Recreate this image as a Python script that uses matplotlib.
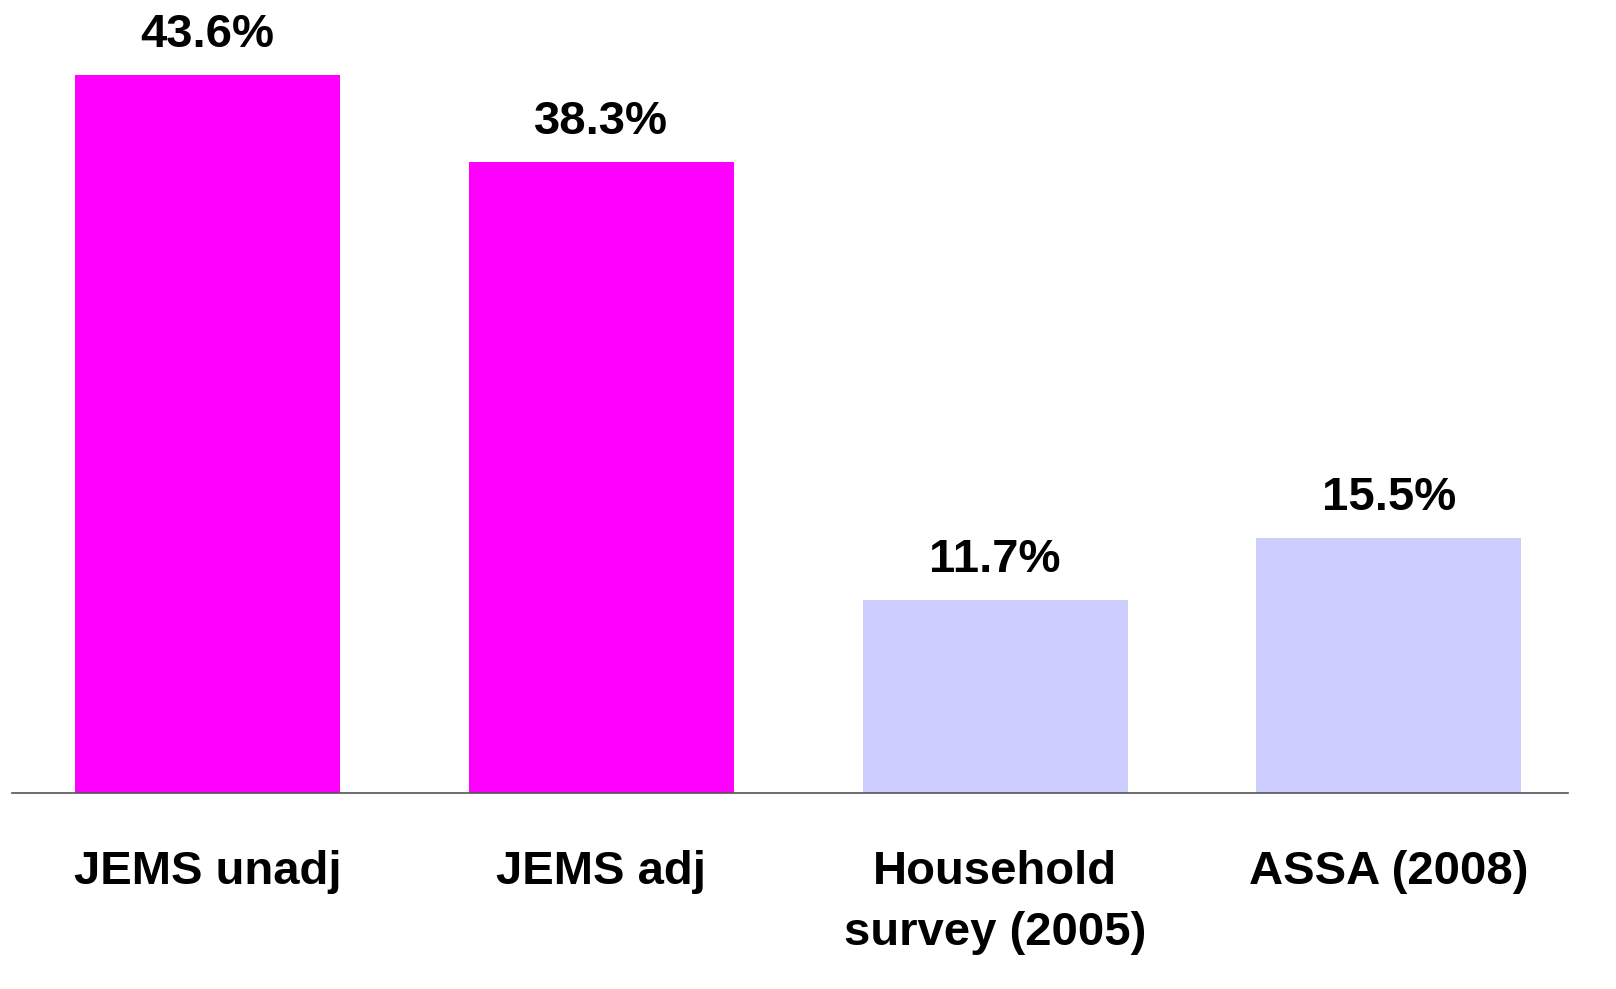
import matplotlib
matplotlib.use("Agg")
import matplotlib.pyplot as plt

categories = ["JEMS unadj", "JEMS adj", "Household\nsurvey (2005)", "ASSA (2008)"]
values = [43.6, 38.3, 11.7, 15.5]
value_labels = ["43.6%", "38.3%", "11.7%", "15.5%"]
colors = ["#FF00FF", "#FF00FF", "#CCCCFF", "#CCCCFF"]

plt.rcParams['font.family'] = ['Liberation Sans', 'DejaVu Sans']

fig = plt.figure(figsize=(16.16, 9.89), dpi=100)
ax = fig.add_axes([12/1616, (989-793)/989, (1568-12)/1616, 793/989])

x = list(range(len(categories)))
bars = ax.bar(x, values, width=0.673, color=colors, zorder=2)

for xi, v, lab in zip(x, values, value_labels):
    ax.annotate(lab, (xi, v), xytext=(0, 13), textcoords='offset points',
                ha='center', va='bottom', fontsize=34, fontweight='bold',
                color='#000000')

ax.set_xlim(-0.497, 3.455)
ax.set_ylim(0, 48.15)
ax.set_xticks(x)
ax.set_xticklabels(categories, fontsize=34, fontweight='bold', color='#000000',
                   linespacing=1.5)
ax.tick_params(axis='x', length=0, pad=41)
ax.set_yticks([])
for s in ['top', 'left', 'right']:
    ax.spines[s].set_visible(False)
ax.spines['bottom'].set_color('#555555')
ax.spines['bottom'].set_linewidth(1.2)

fig.savefig("out.png", dpi=100)
